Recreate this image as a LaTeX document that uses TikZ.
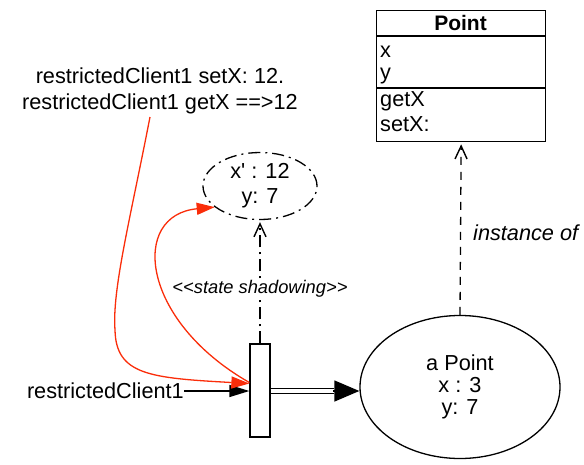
\documentclass[tikz,border=0pt]{standalone}
\usepackage{fontspec}
\setmainfont{Liberation Sans}
\usetikzlibrary{arrows.meta,shapes.geometric}
\definecolor{redc}{RGB}{250,45,10}
\tikzset{
  base/.style={line width=1.3pt},
  txt/.style={inner sep=0pt, font=\fontsize{21.7}{26}\selectfont},
  smalltxt/.style={inner sep=1pt, font=\fontsize{18.3}{22}\selectfont\itshape, fill=white},
  openhead/.style={-{Straight Barb[length=13pt,width=12pt,line width=1.4pt]}},
  dashdot/.style={dash pattern=on 12pt off 5pt on 2pt off 5pt},
  redarrow/.style={draw=redc, line width=1.3pt, -{Triangle[length=18pt,width=12pt,fill=redc]}},
}
\begin{document}
\begin{tikzpicture}[x=1pt,y=-1pt]
\useasboundingbox (0,0) rectangle (584,464);
% class box
\node[base, draw, minimum width=169pt, minimum height=131pt, inner sep=0pt, anchor=north west] (cls) at (376,10) {};
\draw[base] (376,36) -- (545,36);
\draw[base] (376,88) -- (545,88);
\node[txt, anchor=base, font=\fontsize{21}{25}\selectfont\bfseries] (ctitle) at (460.5,30) {Point};
\node[txt, anchor=base west] (cx) at (380,57) {x};
\node[txt, anchor=base west] (cy) at (380,79) {y};
\node[txt, anchor=base west] (cgx) at (380,106) {getX};
\node[txt, anchor=base west] (csx) at (380,131) {setX:};
% big ellipse
\node[base, draw, ellipse, minimum width=200pt, minimum height=143pt, inner sep=0pt, align=center,
  font=\fontsize{21.7}{22}\selectfont] (big) at (460,387) {a Point\\x : 3\\y: 7};
% small ellipse
\node[base, draw, dashdot, ellipse, minimum width=114pt, minimum height=67pt, inner sep=0pt, align=center,
  font=\fontsize{21.7}{25}\selectfont] (se) at (260,186) {x\textquotesingle{} : 12\\y: 7};
% narrow rectangle
\node[base, draw, minimum width=20pt, minimum height=93pt, inner sep=0pt] (rect) at (260,390.5) {};
% labels
\node[txt, align=center] (cmd) at (160,91) {restrictedClient1 setX: 12.\\restrictedClient1 getX ==>12};
\node[txt, anchor=east] (rc) at (184,391) {restrictedClient1};
\node[txt, anchor=west, font=\fontsize{21.7}{26}\selectfont\itshape] (inst) at (473,233) {instance of};
% connectors
\draw[base, dash pattern=on 8pt off 7pt, openhead] (big.north) -- ([yshift=-2pt]cls.south);
\draw[base, dashdot, openhead] (rect.north) -- ([yshift=-2pt]se.south);
\node[smalltxt] (shad) at (260,289) {{<}{<}state shadowing{>}{>}};
\draw[base, -{Triangle[length=20pt,width=12pt]}] (rc.east) -- (rc.east -| rect.west);
\coordinate (dh) at (334,391);
\draw[line width=1.2pt, double, double distance=3.5pt] (rect.east |- dh) -- (dh);
\draw[base, -{Triangle[length=25pt,width=21pt]}] ([xshift=-1pt]dh) -- (dh -| big.west);
% red curves
\coordinate (r1s) at (150,117);
\draw[redarrow] (r1s) .. controls (130,220) and (112,290) .. (115,330)
   .. controls (116,375) and (150,378) .. ([yshift=7pt]rect.west);
\draw[redarrow] ([yshift=8pt]rect.west) .. controls (140,320) and (130,215) .. (se.205);
\end{tikzpicture}
\end{document}
